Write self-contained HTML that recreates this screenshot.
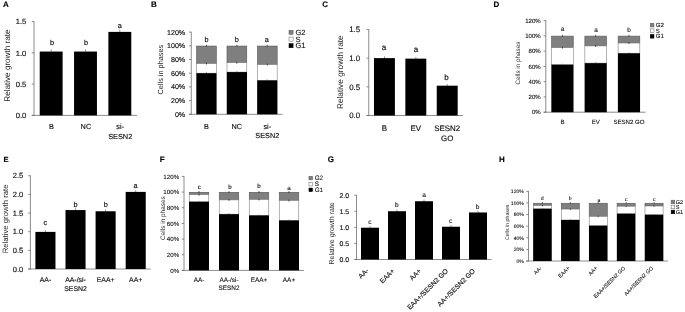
<!DOCTYPE html>
<html>
<head>
<meta charset="utf-8">
<title>Figure</title>
<style>
html,body{margin:0;padding:0;background:#fff;}
body{width:685px;height:312px;overflow:hidden;}
svg{display:block;will-change:transform;}
svg text{font-family:"Liberation Sans",sans-serif;text-rendering:geometricPrecision;}
</style>
</head>
<body>
<svg width="685" height="312" viewBox="0 0 685 312">
<defs><filter id="soft" x="0" y="0" width="685" height="312" filterUnits="userSpaceOnUse"><feGaussianBlur stdDeviation="0.32"/></filter></defs>
<rect x="0" y="0" width="685" height="312" fill="#ffffff"/>
<g filter="url(#soft)"><g id="txt" fill="#0c0c0c" stroke="#0c0c0c" stroke-width="0.13">
<!-- panel A -->
<text x="3" y="7.3" font-size="8" font-weight="bold" fill="#000">A</text>
<text x="10.1" y="65.6" font-size="8.15" text-anchor="middle" transform="rotate(-90 10.1 65.6)" fill="#282828" stroke="none">Relative growth rate</text>
<line x1="34" y1="21.2" x2="34" y2="115.8" stroke="#666666" stroke-width="0.75"/>
<line x1="31.8" y1="115.4" x2="137" y2="115.4" stroke="#666666" stroke-width="0.75"/>
<line x1="31.8" y1="115.4" x2="34" y2="115.4" stroke="#666666" stroke-width="0.75"/>
<text x="26.3" y="118.14" font-size="7.6" text-anchor="end">0.0</text>
<line x1="31.8" y1="84.1" x2="34" y2="84.1" stroke="#666666" stroke-width="0.75"/>
<text x="26.3" y="86.84" font-size="7.6" text-anchor="end">0.5</text>
<line x1="31.8" y1="52.8" x2="34" y2="52.8" stroke="#666666" stroke-width="0.75"/>
<text x="26.3" y="55.54" font-size="7.6" text-anchor="end">1.0</text>
<line x1="31.8" y1="21.5" x2="34" y2="21.5" stroke="#666666" stroke-width="0.75"/>
<text x="26.3" y="24.24" font-size="7.6" text-anchor="end">1.5</text>
<line x1="51.17" y1="49.35" x2="51.17" y2="51.55" stroke="#444" stroke-width="0.6"/>
<rect x="39.72" y="51.55" width="22.89" height="63.85" fill="#000" stroke="none"/>
<line x1="85.5" y1="49.35" x2="85.5" y2="51.55" stroke="#444" stroke-width="0.6"/>
<rect x="74.06" y="51.55" width="22.89" height="63.85" fill="#000" stroke="none"/>
<line x1="119.83" y1="29.69" x2="119.83" y2="31.89" stroke="#444" stroke-width="0.6"/>
<rect x="108.39" y="31.89" width="22.89" height="83.51" fill="#000" stroke="none"/>
<text x="52" y="44.7" font-size="7.3" text-anchor="middle">b</text>
<text x="86" y="44.7" font-size="7.3" text-anchor="middle">b</text>
<text x="119.8" y="27.5" font-size="7.3" text-anchor="middle">a</text>
<text x="51.57" y="129" font-size="7.35" text-anchor="middle">B</text>
<text x="85.9" y="129" font-size="7.35" text-anchor="middle">NC</text>
<text x="120.23" y="129" font-size="7.35" text-anchor="middle">si-</text>
<text x="120.23" y="138.7" font-size="7.35" text-anchor="middle">SESN2</text>
<!-- panel B -->
<text x="151" y="7.1" font-size="8" font-weight="bold" fill="#000">B</text>
<text x="163.4" y="69.6" font-size="7.35" text-anchor="middle" transform="rotate(-90 163.4 69.6)" fill="#282828" stroke="none">Cells in phases</text>
<line x1="191.25" y1="31.8" x2="191.25" y2="114.7" stroke="#666666" stroke-width="0.75"/>
<line x1="189.05" y1="114.3" x2="282.5" y2="114.3" stroke="#666666" stroke-width="0.75"/>
<line x1="189.05" y1="114.3" x2="191.25" y2="114.3" stroke="#666666" stroke-width="0.75"/>
<text x="185.2" y="116.86" font-size="7.1" text-anchor="end">0%</text>
<line x1="189.05" y1="100.6" x2="191.25" y2="100.6" stroke="#666666" stroke-width="0.75"/>
<text x="185.2" y="103.16" font-size="7.1" text-anchor="end">20%</text>
<line x1="189.05" y1="86.9" x2="191.25" y2="86.9" stroke="#666666" stroke-width="0.75"/>
<text x="185.2" y="89.46" font-size="7.1" text-anchor="end">40%</text>
<line x1="189.05" y1="73.2" x2="191.25" y2="73.2" stroke="#666666" stroke-width="0.75"/>
<text x="185.2" y="75.76" font-size="7.1" text-anchor="end">60%</text>
<line x1="189.05" y1="59.5" x2="191.25" y2="59.5" stroke="#666666" stroke-width="0.75"/>
<text x="185.2" y="62.06" font-size="7.1" text-anchor="end">80%</text>
<line x1="189.05" y1="45.8" x2="191.25" y2="45.8" stroke="#666666" stroke-width="0.75"/>
<text x="185.2" y="48.36" font-size="7.1" text-anchor="end">100%</text>
<line x1="189.05" y1="32.1" x2="191.25" y2="32.1" stroke="#666666" stroke-width="0.75"/>
<text x="185.2" y="34.66" font-size="7.1" text-anchor="end">120%</text>
<rect x="196.57" y="46.05" width="19.78" height="17.56" fill="#7f7f7f" stroke="#585858" stroke-width="0.6"/>
<rect x="196.57" y="63.61" width="19.78" height="9.59" fill="#fff" stroke="#808080" stroke-width="0.6"/>
<rect x="196.32" y="73.2" width="20.28" height="41.1" fill="#000" stroke="none"/>
<line x1="206.46" y1="44.8" x2="206.46" y2="46.8" stroke="#222" stroke-width="0.7"/>
<line x1="206.46" y1="62.61" x2="206.46" y2="64.61" stroke="#222" stroke-width="0.7"/>
<line x1="206.46" y1="72.2" x2="206.46" y2="73.2" stroke="#555" stroke-width="0.6"/>
<rect x="226.99" y="46.05" width="19.78" height="16.67" fill="#7f7f7f" stroke="#585858" stroke-width="0.6"/>
<rect x="226.99" y="62.72" width="19.78" height="9.38" fill="#fff" stroke="#808080" stroke-width="0.6"/>
<rect x="226.74" y="72.1" width="20.28" height="42.2" fill="#000" stroke="none"/>
<line x1="236.88" y1="44.8" x2="236.88" y2="46.8" stroke="#222" stroke-width="0.7"/>
<line x1="236.88" y1="61.72" x2="236.88" y2="63.72" stroke="#222" stroke-width="0.7"/>
<line x1="236.88" y1="71.1" x2="236.88" y2="72.1" stroke="#555" stroke-width="0.6"/>
<rect x="257.4" y="46.05" width="19.78" height="18.59" fill="#7f7f7f" stroke="#585858" stroke-width="0.6"/>
<rect x="257.4" y="64.64" width="19.78" height="15.76" fill="#fff" stroke="#808080" stroke-width="0.6"/>
<rect x="257.15" y="80.39" width="20.28" height="33.91" fill="#000" stroke="none"/>
<line x1="267.29" y1="44.8" x2="267.29" y2="46.8" stroke="#222" stroke-width="0.7"/>
<line x1="267.29" y1="63.64" x2="267.29" y2="65.64" stroke="#222" stroke-width="0.7"/>
<line x1="267.29" y1="79.39" x2="267.29" y2="80.39" stroke="#555" stroke-width="0.6"/>
<text x="206.6" y="41.9" font-size="7.3" text-anchor="middle">b</text>
<text x="236.9" y="41.9" font-size="7.3" text-anchor="middle">b</text>
<text x="266.9" y="41.9" font-size="7.3" text-anchor="middle">a</text>
<text x="206.46" y="128.75" font-size="7.3" text-anchor="middle">B</text>
<text x="236.88" y="128.75" font-size="7.3" text-anchor="middle">NC</text>
<text x="267.29" y="128.75" font-size="7.3" text-anchor="middle">si-</text>
<text x="267.29" y="137.75" font-size="7.3" text-anchor="middle">SESN2</text>
<rect x="289" y="30.25" width="4.1" height="4.1" fill="#7f7f7f" stroke="#5a5a5a" stroke-width="0.5"/>
<text x="295.4" y="34.8" font-size="7.5">G2</text>
<rect x="289" y="37.05" width="4.1" height="4.1" fill="#fff" stroke="#606060" stroke-width="0.5"/>
<text x="295.4" y="41.5" font-size="7.5">S</text>
<rect x="289" y="43.65" width="4.1" height="4.1" fill="#000" stroke="#000" stroke-width="0.5"/>
<text x="295.4" y="48" font-size="7.5">G1</text>
<!-- panel C -->
<text x="322.2" y="7" font-size="8" font-weight="bold" fill="#000">C</text>
<text x="343" y="72.2" font-size="8.3" text-anchor="middle" transform="rotate(-90 343 72.2)" fill="#282828" stroke="none">Relative growth rate</text>
<line x1="368.75" y1="29.2" x2="368.75" y2="115.9" stroke="#666666" stroke-width="0.75"/>
<line x1="366.55" y1="115.5" x2="462.9" y2="115.5" stroke="#666666" stroke-width="0.75"/>
<line x1="366.55" y1="115.5" x2="368.75" y2="115.5" stroke="#666666" stroke-width="0.75"/>
<text x="360.2" y="118.34" font-size="7.9" text-anchor="end">0.0</text>
<line x1="366.55" y1="86.83" x2="368.75" y2="86.83" stroke="#666666" stroke-width="0.75"/>
<text x="360.2" y="89.68" font-size="7.9" text-anchor="end">0.5</text>
<line x1="366.55" y1="58.17" x2="368.75" y2="58.17" stroke="#666666" stroke-width="0.75"/>
<text x="360.2" y="61.01" font-size="7.9" text-anchor="end">1.0</text>
<line x1="366.55" y1="29.5" x2="368.75" y2="29.5" stroke="#666666" stroke-width="0.75"/>
<text x="360.2" y="32.34" font-size="7.9" text-anchor="end">1.5</text>
<line x1="384.44" y1="56.41" x2="384.44" y2="58.11" stroke="#444" stroke-width="0.6"/>
<rect x="373.98" y="58.11" width="20.92" height="57.39" fill="#000" stroke="none"/>
<line x1="415.82" y1="56.93" x2="415.82" y2="58.63" stroke="#444" stroke-width="0.6"/>
<rect x="405.36" y="58.63" width="20.92" height="56.87" fill="#000" stroke="none"/>
<line x1="447.21" y1="83.99" x2="447.21" y2="85.69" stroke="#444" stroke-width="0.6"/>
<rect x="436.75" y="85.69" width="20.92" height="29.81" fill="#000" stroke="none"/>
<text x="384" y="50" font-size="8" text-anchor="middle">a</text>
<text x="415.9" y="51.9" font-size="8" text-anchor="middle">a</text>
<text x="446.5" y="79.8" font-size="8" text-anchor="middle">b</text>
<text x="384.44" y="130.9" font-size="7.9" text-anchor="middle">B</text>
<text x="415.82" y="130.9" font-size="7.9" text-anchor="middle">EV</text>
<text x="447.21" y="130.9" font-size="7.9" text-anchor="middle">SESN2</text>
<text x="447.21" y="141.2" font-size="7.9" text-anchor="middle">GO</text>
<!-- panel D -->
<text x="493.4" y="7" font-size="8" font-weight="bold" fill="#000">D</text>
<text x="520.2" y="63" font-size="6.35" text-anchor="middle" transform="rotate(-90 520.2 63)" fill="#282828" stroke-width="0.08" stroke="none">Cells in phases</text>
<line x1="545.8" y1="20.3" x2="545.8" y2="112.6" stroke="#666666" stroke-width="0.75"/>
<line x1="543.6" y1="112.2" x2="645.6" y2="112.2" stroke="#666666" stroke-width="0.75"/>
<line x1="543.6" y1="112.2" x2="545.8" y2="112.2" stroke="#666666" stroke-width="0.75"/>
<text x="540.7" y="114.38" font-size="6.05" text-anchor="end" stroke-width="0.08">0%</text>
<line x1="543.6" y1="96.93" x2="545.8" y2="96.93" stroke="#666666" stroke-width="0.75"/>
<text x="540.7" y="99.11" font-size="6.05" text-anchor="end" stroke-width="0.08">20%</text>
<line x1="543.6" y1="81.67" x2="545.8" y2="81.67" stroke="#666666" stroke-width="0.75"/>
<text x="540.7" y="83.84" font-size="6.05" text-anchor="end" stroke-width="0.08">40%</text>
<line x1="543.6" y1="66.4" x2="545.8" y2="66.4" stroke="#666666" stroke-width="0.75"/>
<text x="540.7" y="68.58" font-size="6.05" text-anchor="end" stroke-width="0.08">60%</text>
<line x1="543.6" y1="51.13" x2="545.8" y2="51.13" stroke="#666666" stroke-width="0.75"/>
<text x="540.7" y="53.31" font-size="6.05" text-anchor="end" stroke-width="0.08">80%</text>
<line x1="543.6" y1="35.87" x2="545.8" y2="35.87" stroke="#666666" stroke-width="0.75"/>
<text x="540.7" y="38.04" font-size="6.05" text-anchor="end" stroke-width="0.08">100%</text>
<line x1="543.6" y1="20.6" x2="545.8" y2="20.6" stroke="#666666" stroke-width="0.75"/>
<text x="540.7" y="22.78" font-size="6.05" text-anchor="end" stroke-width="0.08">120%</text>
<rect x="551.59" y="36.12" width="21.68" height="11.58" fill="#7f7f7f" stroke="#585858" stroke-width="0.6"/>
<rect x="551.59" y="47.7" width="21.68" height="17.02" fill="#fff" stroke="#808080" stroke-width="0.6"/>
<rect x="551.34" y="64.72" width="22.18" height="47.48" fill="#000" stroke="none"/>
<line x1="562.43" y1="34.87" x2="562.43" y2="36.87" stroke="#222" stroke-width="0.7"/>
<line x1="562.43" y1="46.7" x2="562.43" y2="48.7" stroke="#222" stroke-width="0.7"/>
<line x1="562.43" y1="63.72" x2="562.43" y2="64.72" stroke="#555" stroke-width="0.6"/>
<rect x="584.86" y="36.12" width="21.68" height="9.83" fill="#7f7f7f" stroke="#585858" stroke-width="0.6"/>
<rect x="584.86" y="45.94" width="21.68" height="17.18" fill="#fff" stroke="#808080" stroke-width="0.6"/>
<rect x="584.61" y="63.12" width="22.18" height="49.08" fill="#000" stroke="none"/>
<line x1="595.7" y1="34.87" x2="595.7" y2="36.87" stroke="#222" stroke-width="0.7"/>
<line x1="595.7" y1="44.94" x2="595.7" y2="46.94" stroke="#222" stroke-width="0.7"/>
<line x1="595.7" y1="62.12" x2="595.7" y2="63.12" stroke="#555" stroke-width="0.6"/>
<rect x="618.13" y="36.12" width="21.68" height="6.93" fill="#7f7f7f" stroke="#585858" stroke-width="0.6"/>
<rect x="618.13" y="43.04" width="21.68" height="10.23" fill="#fff" stroke="#808080" stroke-width="0.6"/>
<rect x="617.88" y="53.27" width="22.18" height="58.93" fill="#000" stroke="none"/>
<line x1="628.97" y1="34.87" x2="628.97" y2="36.87" stroke="#222" stroke-width="0.7"/>
<line x1="628.97" y1="42.04" x2="628.97" y2="44.04" stroke="#222" stroke-width="0.7"/>
<line x1="628.97" y1="52.27" x2="628.97" y2="53.27" stroke="#555" stroke-width="0.6"/>
<text x="562.5" y="30.6" font-size="6.4" text-anchor="middle" stroke-width="0.08">a</text>
<text x="596" y="31.9" font-size="6.4" text-anchor="middle" stroke-width="0.08">a</text>
<text x="629.1" y="31.9" font-size="6.4" text-anchor="middle" stroke-width="0.08">b</text>
<text x="562.43" y="124" font-size="6.1" text-anchor="middle" stroke-width="0.08">B</text>
<text x="595.7" y="124" font-size="6.1" text-anchor="middle" stroke-width="0.08">EV</text>
<text x="628.97" y="124" font-size="6.1" text-anchor="middle" stroke-width="0.08">SESN2 GO</text>
<rect x="650.25" y="23.25" width="3.7" height="3.7" fill="#7f7f7f" stroke="#5a5a5a" stroke-width="0.5"/>
<text x="655.7" y="26.9" font-size="6.1" stroke-width="0.08">G2</text>
<rect x="650.25" y="28.85" width="3.7" height="3.7" fill="#fff" stroke="#606060" stroke-width="0.5"/>
<text x="655.7" y="32.5" font-size="6.1" stroke-width="0.08">S</text>
<rect x="650.25" y="34.45" width="3.7" height="3.7" fill="#000" stroke="#000" stroke-width="0.5"/>
<text x="655.7" y="38" font-size="6.1" stroke-width="0.08">G1</text>
<!-- panel E -->
<text x="3.4" y="162.1" font-size="7.6" font-weight="bold" fill="#000">E</text>
<text x="8.2" y="218.9" font-size="7.75" text-anchor="middle" transform="rotate(-90 8.2 218.9)" fill="#282828" stroke="none">Relative growth rate</text>
<line x1="30.4" y1="175.45" x2="30.4" y2="269.4" stroke="#666666" stroke-width="0.75"/>
<line x1="28.2" y1="269" x2="150.75" y2="269" stroke="#666666" stroke-width="0.75"/>
<line x1="28.2" y1="269" x2="30.4" y2="269" stroke="#666666" stroke-width="0.75"/>
<text x="23.2" y="271.7" font-size="7.5" text-anchor="end">0.0</text>
<line x1="28.2" y1="250.35" x2="30.4" y2="250.35" stroke="#666666" stroke-width="0.75"/>
<text x="23.2" y="253.05" font-size="7.5" text-anchor="end">0.5</text>
<line x1="28.2" y1="231.7" x2="30.4" y2="231.7" stroke="#666666" stroke-width="0.75"/>
<text x="23.2" y="234.4" font-size="7.5" text-anchor="end">1.0</text>
<line x1="28.2" y1="213.05" x2="30.4" y2="213.05" stroke="#666666" stroke-width="0.75"/>
<text x="23.2" y="215.75" font-size="7.5" text-anchor="end">1.5</text>
<line x1="28.2" y1="194.4" x2="30.4" y2="194.4" stroke="#666666" stroke-width="0.75"/>
<text x="23.2" y="197.1" font-size="7.5" text-anchor="end">2.0</text>
<line x1="28.2" y1="175.75" x2="30.4" y2="175.75" stroke="#666666" stroke-width="0.75"/>
<text x="23.2" y="178.45" font-size="7.5" text-anchor="end">2.5</text>
<line x1="45.44" y1="230.19" x2="45.44" y2="231.89" stroke="#444" stroke-width="0.6"/>
<rect x="35.41" y="231.89" width="20.06" height="37.11" fill="#000" stroke="none"/>
<line x1="75.53" y1="208.37" x2="75.53" y2="210.07" stroke="#444" stroke-width="0.6"/>
<rect x="65.5" y="210.07" width="20.06" height="58.93" fill="#000" stroke="none"/>
<line x1="105.62" y1="209.56" x2="105.62" y2="211.26" stroke="#444" stroke-width="0.6"/>
<rect x="95.59" y="211.26" width="20.06" height="57.74" fill="#000" stroke="none"/>
<line x1="135.71" y1="190.2" x2="135.71" y2="191.9" stroke="#444" stroke-width="0.6"/>
<rect x="125.68" y="191.9" width="20.06" height="77.1" fill="#000" stroke="none"/>
<text x="45.3" y="225" font-size="7.3" text-anchor="middle">c</text>
<text x="75.5" y="206.5" font-size="7.3" text-anchor="middle">b</text>
<text x="105.9" y="207.3" font-size="7.3" text-anchor="middle">b</text>
<text x="135.6" y="187.5" font-size="7.3" text-anchor="middle">a</text>
<text x="45.44" y="282.3" font-size="6.9" text-anchor="middle">AA-</text>
<text x="75.53" y="282.3" font-size="6.9" text-anchor="middle">AA-/si-</text>
<text x="75.53" y="291" font-size="6.9" text-anchor="middle">SESN2</text>
<text x="105.62" y="282.3" font-size="6.9" text-anchor="middle">EAA+</text>
<text x="135.71" y="282.3" font-size="6.9" text-anchor="middle">AA+</text>
<!-- panel F -->
<text x="159.8" y="161.8" font-size="8" font-weight="bold" fill="#000">F</text>
<text x="164.8" y="218.1" font-size="6.45" text-anchor="middle" transform="rotate(-90 164.8 218.1)" fill="#282828" stroke-width="0.08" stroke="none">Cells in phases</text>
<line x1="184" y1="176.1" x2="184" y2="270.8" stroke="#666666" stroke-width="0.75"/>
<line x1="181.8" y1="270.4" x2="304" y2="270.4" stroke="#666666" stroke-width="0.75"/>
<line x1="181.8" y1="270.4" x2="184" y2="270.4" stroke="#666666" stroke-width="0.75"/>
<text x="179.2" y="272.63" font-size="6.2" text-anchor="end" stroke-width="0.08">0%</text>
<line x1="181.8" y1="254.73" x2="184" y2="254.73" stroke="#666666" stroke-width="0.75"/>
<text x="179.2" y="256.97" font-size="6.2" text-anchor="end" stroke-width="0.08">20%</text>
<line x1="181.8" y1="239.07" x2="184" y2="239.07" stroke="#666666" stroke-width="0.75"/>
<text x="179.2" y="241.3" font-size="6.2" text-anchor="end" stroke-width="0.08">40%</text>
<line x1="181.8" y1="223.4" x2="184" y2="223.4" stroke="#666666" stroke-width="0.75"/>
<text x="179.2" y="225.63" font-size="6.2" text-anchor="end" stroke-width="0.08">60%</text>
<line x1="181.8" y1="207.73" x2="184" y2="207.73" stroke="#666666" stroke-width="0.75"/>
<text x="179.2" y="209.97" font-size="6.2" text-anchor="end" stroke-width="0.08">80%</text>
<line x1="181.8" y1="192.07" x2="184" y2="192.07" stroke="#666666" stroke-width="0.75"/>
<text x="179.2" y="194.3" font-size="6.2" text-anchor="end" stroke-width="0.08">100%</text>
<line x1="181.8" y1="176.4" x2="184" y2="176.4" stroke="#666666" stroke-width="0.75"/>
<text x="179.2" y="178.63" font-size="6.2" text-anchor="end" stroke-width="0.08">120%</text>
<rect x="189.25" y="192.32" width="19.5" height="2.41" fill="#7f7f7f" stroke="#585858" stroke-width="0.6"/>
<rect x="189.25" y="194.73" width="19.5" height="7.05" fill="#fff" stroke="#808080" stroke-width="0.6"/>
<rect x="189" y="201.78" width="20" height="68.62" fill="#000" stroke="none"/>
<line x1="199" y1="191.07" x2="199" y2="193.07" stroke="#222" stroke-width="0.7"/>
<line x1="199" y1="193.73" x2="199" y2="195.73" stroke="#222" stroke-width="0.7"/>
<line x1="199" y1="200.78" x2="199" y2="201.78" stroke="#555" stroke-width="0.6"/>
<rect x="219.25" y="192.32" width="19.5" height="7.58" fill="#7f7f7f" stroke="#585858" stroke-width="0.6"/>
<rect x="219.25" y="199.9" width="19.5" height="14.26" fill="#fff" stroke="#808080" stroke-width="0.6"/>
<rect x="219" y="214.16" width="20" height="56.24" fill="#000" stroke="none"/>
<line x1="229" y1="191.07" x2="229" y2="193.07" stroke="#222" stroke-width="0.7"/>
<line x1="229" y1="198.9" x2="229" y2="200.9" stroke="#222" stroke-width="0.7"/>
<line x1="229" y1="213.16" x2="229" y2="214.16" stroke="#555" stroke-width="0.6"/>
<rect x="249.25" y="192.32" width="19.5" height="7.19" fill="#7f7f7f" stroke="#585858" stroke-width="0.6"/>
<rect x="249.25" y="199.51" width="19.5" height="15.9" fill="#fff" stroke="#808080" stroke-width="0.6"/>
<rect x="249" y="215.41" width="20" height="54.99" fill="#000" stroke="none"/>
<line x1="259" y1="191.07" x2="259" y2="193.07" stroke="#222" stroke-width="0.7"/>
<line x1="259" y1="198.51" x2="259" y2="200.51" stroke="#222" stroke-width="0.7"/>
<line x1="259" y1="214.41" x2="259" y2="215.41" stroke="#555" stroke-width="0.6"/>
<rect x="279.25" y="192.32" width="19.5" height="8.21" fill="#7f7f7f" stroke="#585858" stroke-width="0.6"/>
<rect x="279.25" y="200.53" width="19.5" height="19.9" fill="#fff" stroke="#808080" stroke-width="0.6"/>
<rect x="279" y="220.42" width="20" height="49.98" fill="#000" stroke="none"/>
<line x1="289" y1="191.07" x2="289" y2="193.07" stroke="#222" stroke-width="0.7"/>
<line x1="289" y1="199.53" x2="289" y2="201.53" stroke="#222" stroke-width="0.7"/>
<line x1="289" y1="219.42" x2="289" y2="220.42" stroke="#555" stroke-width="0.6"/>
<text x="199.4" y="188.8" font-size="6.2" text-anchor="middle" stroke-width="0.08">c</text>
<text x="230" y="188.8" font-size="6.2" text-anchor="middle" stroke-width="0.08">b</text>
<text x="259.1" y="187.8" font-size="6.2" text-anchor="middle" stroke-width="0.08">b</text>
<text x="289" y="189.6" font-size="6.2" text-anchor="middle" stroke-width="0.08">a</text>
<text x="199" y="281.6" font-size="6.4" text-anchor="middle" stroke-width="0.08">AA-</text>
<text x="229" y="281.6" font-size="6.4" text-anchor="middle" stroke-width="0.08">AA-/si-</text>
<text x="229" y="289.6" font-size="6.4" text-anchor="middle" stroke-width="0.08">SESN2</text>
<text x="259" y="281.6" font-size="6.4" text-anchor="middle" stroke-width="0.08">EAA+</text>
<text x="289" y="281.6" font-size="6.4" text-anchor="middle" stroke-width="0.08">AA+</text>
<rect x="308.95" y="176.25" width="3.6" height="3.6" fill="#7f7f7f" stroke="#5a5a5a" stroke-width="0.5"/>
<text x="314.7" y="180.4" font-size="6.3" stroke-width="0.08">G2</text>
<rect x="308.95" y="182.35" width="3.6" height="3.6" fill="#fff" stroke="#606060" stroke-width="0.5"/>
<text x="314.7" y="186.4" font-size="6.3" stroke-width="0.08">S</text>
<rect x="308.95" y="188.05" width="3.6" height="3.6" fill="#000" stroke="#000" stroke-width="0.5"/>
<text x="314.7" y="192" font-size="6.3" stroke-width="0.08">G1</text>
<!-- panel G -->
<text x="327.8" y="162.1" font-size="8" font-weight="bold" fill="#000">G</text>
<text x="334.2" y="233.4" font-size="7" text-anchor="middle" transform="rotate(-90 334.2 233.4)" fill="#282828" stroke="none">Relative growth rate</text>
<line x1="356.5" y1="194.95" x2="356.5" y2="259.9" stroke="#666666" stroke-width="0.75"/>
<line x1="354.3" y1="259.5" x2="491.5" y2="259.5" stroke="#666666" stroke-width="0.75"/>
<line x1="354.3" y1="259.5" x2="356.5" y2="259.5" stroke="#666666" stroke-width="0.75"/>
<text x="349.1" y="261.98" font-size="6.9" text-anchor="end">0.0</text>
<line x1="354.3" y1="243.44" x2="356.5" y2="243.44" stroke="#666666" stroke-width="0.75"/>
<text x="349.1" y="245.92" font-size="6.9" text-anchor="end">0.5</text>
<line x1="354.3" y1="227.38" x2="356.5" y2="227.38" stroke="#666666" stroke-width="0.75"/>
<text x="349.1" y="229.86" font-size="6.9" text-anchor="end">1.0</text>
<line x1="354.3" y1="211.31" x2="356.5" y2="211.31" stroke="#666666" stroke-width="0.75"/>
<text x="349.1" y="213.8" font-size="6.9" text-anchor="end">1.5</text>
<line x1="354.3" y1="195.25" x2="356.5" y2="195.25" stroke="#666666" stroke-width="0.75"/>
<text x="349.1" y="197.73" font-size="6.9" text-anchor="end">2.0</text>
<line x1="370" y1="226.1" x2="370" y2="227.7" stroke="#444" stroke-width="0.6"/>
<rect x="361" y="227.7" width="18" height="31.8" fill="#000" stroke="none"/>
<line x1="397" y1="209.62" x2="397" y2="211.22" stroke="#444" stroke-width="0.6"/>
<rect x="388" y="211.22" width="18" height="48.28" fill="#000" stroke="none"/>
<line x1="424" y1="199.63" x2="424" y2="201.23" stroke="#444" stroke-width="0.6"/>
<rect x="415" y="201.23" width="18" height="58.27" fill="#000" stroke="none"/>
<line x1="451" y1="225.13" x2="451" y2="226.73" stroke="#444" stroke-width="0.6"/>
<rect x="442" y="226.73" width="18" height="32.77" fill="#000" stroke="none"/>
<line x1="478" y1="210.87" x2="478" y2="212.47" stroke="#444" stroke-width="0.6"/>
<rect x="469" y="212.47" width="18" height="47.03" fill="#000" stroke="none"/>
<text x="369.8" y="223.5" font-size="6.6" text-anchor="middle" stroke-width="0.08">c</text>
<text x="396.9" y="207.3" font-size="6.6" text-anchor="middle" stroke-width="0.08">b</text>
<text x="424.1" y="196.5" font-size="6.6" text-anchor="middle" stroke-width="0.08">a</text>
<text x="450.6" y="223" font-size="6.6" text-anchor="middle" stroke-width="0.08">c</text>
<text x="477.5" y="208.5" font-size="6.6" text-anchor="middle" stroke-width="0.08">b</text>
<text x="369.1" y="271.02" font-size="6.85" text-anchor="end" transform="rotate(-45 369.1 271.02)">AA-</text>
<text x="395.1" y="271.32" font-size="6.85" text-anchor="end" transform="rotate(-45 395.1 271.32)">EAA+</text>
<text x="421.5" y="271.5" font-size="6.85" text-anchor="end" transform="rotate(-45 421.5 271.5)">AA+</text>
<text x="448.5" y="271.5" font-size="6.85" text-anchor="end" transform="rotate(-45 448.5 271.5)">EAA+/SESN2 GO</text>
<text x="475.5" y="271.5" font-size="6.85" text-anchor="end" transform="rotate(-45 475.5 271.5)">AA+/SESN2 GO</text>
<!-- panel H -->
<text x="498.9" y="161.8" font-size="8" font-weight="bold" fill="#000">H</text>
<text x="509.4" y="222.3" font-size="5.25" text-anchor="middle" transform="rotate(-90 509.4 222.3)" fill="#282828" stroke-width="0.08" stroke="none">Cells in phases</text>
<line x1="528.5" y1="191.1" x2="528.5" y2="261.4" stroke="#666666" stroke-width="0.75"/>
<line x1="526.3" y1="261" x2="668" y2="261" stroke="#666666" stroke-width="0.75"/>
<line x1="526.3" y1="261" x2="528.5" y2="261" stroke="#666666" stroke-width="0.75"/>
<text x="523.9" y="262.84" font-size="5.1" text-anchor="end" stroke-width="0.08">0%</text>
<line x1="526.3" y1="249.4" x2="528.5" y2="249.4" stroke="#666666" stroke-width="0.75"/>
<text x="523.9" y="251.24" font-size="5.1" text-anchor="end" stroke-width="0.08">20%</text>
<line x1="526.3" y1="237.8" x2="528.5" y2="237.8" stroke="#666666" stroke-width="0.75"/>
<text x="523.9" y="239.64" font-size="5.1" text-anchor="end" stroke-width="0.08">40%</text>
<line x1="526.3" y1="226.2" x2="528.5" y2="226.2" stroke="#666666" stroke-width="0.75"/>
<text x="523.9" y="228.04" font-size="5.1" text-anchor="end" stroke-width="0.08">60%</text>
<line x1="526.3" y1="214.6" x2="528.5" y2="214.6" stroke="#666666" stroke-width="0.75"/>
<text x="523.9" y="216.44" font-size="5.1" text-anchor="end" stroke-width="0.08">80%</text>
<line x1="526.3" y1="203" x2="528.5" y2="203" stroke="#666666" stroke-width="0.75"/>
<text x="523.9" y="204.84" font-size="5.1" text-anchor="end" stroke-width="0.08">100%</text>
<line x1="526.3" y1="191.4" x2="528.5" y2="191.4" stroke="#666666" stroke-width="0.75"/>
<text x="523.9" y="193.24" font-size="5.1" text-anchor="end" stroke-width="0.08">120%</text>
<rect x="533.4" y="203.25" width="18.1" height="2.36" fill="#7f7f7f" stroke="#585858" stroke-width="0.6"/>
<rect x="533.4" y="205.61" width="18.1" height="3.19" fill="#fff" stroke="#808080" stroke-width="0.6"/>
<rect x="533.15" y="208.8" width="18.6" height="52.2" fill="#000" stroke="none"/>
<line x1="542.45" y1="202.2" x2="542.45" y2="203.8" stroke="#222" stroke-width="0.7"/>
<line x1="542.45" y1="204.81" x2="542.45" y2="206.41" stroke="#222" stroke-width="0.7"/>
<line x1="542.45" y1="208" x2="542.45" y2="208.8" stroke="#555" stroke-width="0.6"/>
<rect x="561.3" y="203.25" width="18.1" height="5.84" fill="#7f7f7f" stroke="#585858" stroke-width="0.6"/>
<rect x="561.3" y="209.09" width="18.1" height="10.9" fill="#fff" stroke="#808080" stroke-width="0.6"/>
<rect x="561.05" y="219.99" width="18.6" height="41.01" fill="#000" stroke="none"/>
<line x1="570.35" y1="202.2" x2="570.35" y2="203.8" stroke="#222" stroke-width="0.7"/>
<line x1="570.35" y1="208.29" x2="570.35" y2="209.89" stroke="#222" stroke-width="0.7"/>
<line x1="570.35" y1="219.19" x2="570.35" y2="219.99" stroke="#555" stroke-width="0.6"/>
<rect x="589.2" y="203.25" width="18.1" height="13.15" fill="#7f7f7f" stroke="#585858" stroke-width="0.6"/>
<rect x="589.2" y="216.4" width="18.1" height="9.34" fill="#fff" stroke="#808080" stroke-width="0.6"/>
<rect x="588.95" y="225.74" width="18.6" height="35.26" fill="#000" stroke="none"/>
<line x1="598.25" y1="202.2" x2="598.25" y2="203.8" stroke="#222" stroke-width="0.7"/>
<line x1="598.25" y1="215.6" x2="598.25" y2="217.2" stroke="#222" stroke-width="0.7"/>
<line x1="598.25" y1="224.94" x2="598.25" y2="225.74" stroke="#555" stroke-width="0.6"/>
<rect x="617.1" y="203.25" width="18.1" height="3" fill="#7f7f7f" stroke="#585858" stroke-width="0.6"/>
<rect x="617.1" y="206.25" width="18.1" height="7.48" fill="#fff" stroke="#808080" stroke-width="0.6"/>
<rect x="616.85" y="213.73" width="18.6" height="47.27" fill="#000" stroke="none"/>
<line x1="626.15" y1="202.2" x2="626.15" y2="203.8" stroke="#222" stroke-width="0.7"/>
<line x1="626.15" y1="205.45" x2="626.15" y2="207.05" stroke="#222" stroke-width="0.7"/>
<line x1="626.15" y1="212.93" x2="626.15" y2="213.73" stroke="#555" stroke-width="0.6"/>
<rect x="645" y="203.25" width="18.1" height="2.77" fill="#7f7f7f" stroke="#585858" stroke-width="0.6"/>
<rect x="645" y="206.02" width="18.1" height="8.76" fill="#fff" stroke="#808080" stroke-width="0.6"/>
<rect x="644.75" y="214.77" width="18.6" height="46.23" fill="#000" stroke="none"/>
<line x1="654.05" y1="202.2" x2="654.05" y2="203.8" stroke="#222" stroke-width="0.7"/>
<line x1="654.05" y1="205.22" x2="654.05" y2="206.82" stroke="#222" stroke-width="0.7"/>
<line x1="654.05" y1="213.97" x2="654.05" y2="214.77" stroke="#555" stroke-width="0.6"/>
<text x="542.3" y="199.7" font-size="5.2" text-anchor="middle" stroke-width="0.08">d</text>
<text x="570.2" y="199.7" font-size="5.2" text-anchor="middle" stroke-width="0.08">b</text>
<text x="598.9" y="202" font-size="5.2" text-anchor="middle" stroke-width="0.08">a</text>
<text x="626.3" y="200.7" font-size="5.2" text-anchor="middle" stroke-width="0.08">c</text>
<text x="654.2" y="200.7" font-size="5.2" text-anchor="middle" stroke-width="0.08">c</text>
<text x="541.95" y="268.5" font-size="5.3" text-anchor="end" transform="rotate(-45 541.95 268.5)" stroke-width="0.08">AA-</text>
<text x="569.85" y="268.5" font-size="5.3" text-anchor="end" transform="rotate(-45 569.85 268.5)" stroke-width="0.08">EAA+</text>
<text x="597.75" y="268.5" font-size="5.3" text-anchor="end" transform="rotate(-45 597.75 268.5)" stroke-width="0.08">AA+</text>
<text x="625.65" y="268.5" font-size="5.3" text-anchor="end" transform="rotate(-45 625.65 268.5)" stroke-width="0.08">EAA+/SESN2 GO</text>
<text x="653.55" y="268.5" font-size="5.3" text-anchor="end" transform="rotate(-45 653.55 268.5)" stroke-width="0.08">AA+/SESN2 GO</text>
<rect x="671.15" y="200.15" width="3.6" height="3.6" fill="#7f7f7f" stroke="#5a5a5a" stroke-width="0.5"/>
<text x="675.8" y="203.8" font-size="5.5" stroke-width="0.08">G2</text>
<rect x="671.15" y="205.15" width="3.6" height="3.6" fill="#fff" stroke="#606060" stroke-width="0.5"/>
<text x="675.8" y="208.8" font-size="5.5" stroke-width="0.08">S</text>
<rect x="671.15" y="210.15" width="3.6" height="3.6" fill="#000" stroke="#000" stroke-width="0.5"/>
<text x="675.8" y="213.8" font-size="5.5" stroke-width="0.08">G1</text>
</g></g>
</svg>
</body>
</html>
